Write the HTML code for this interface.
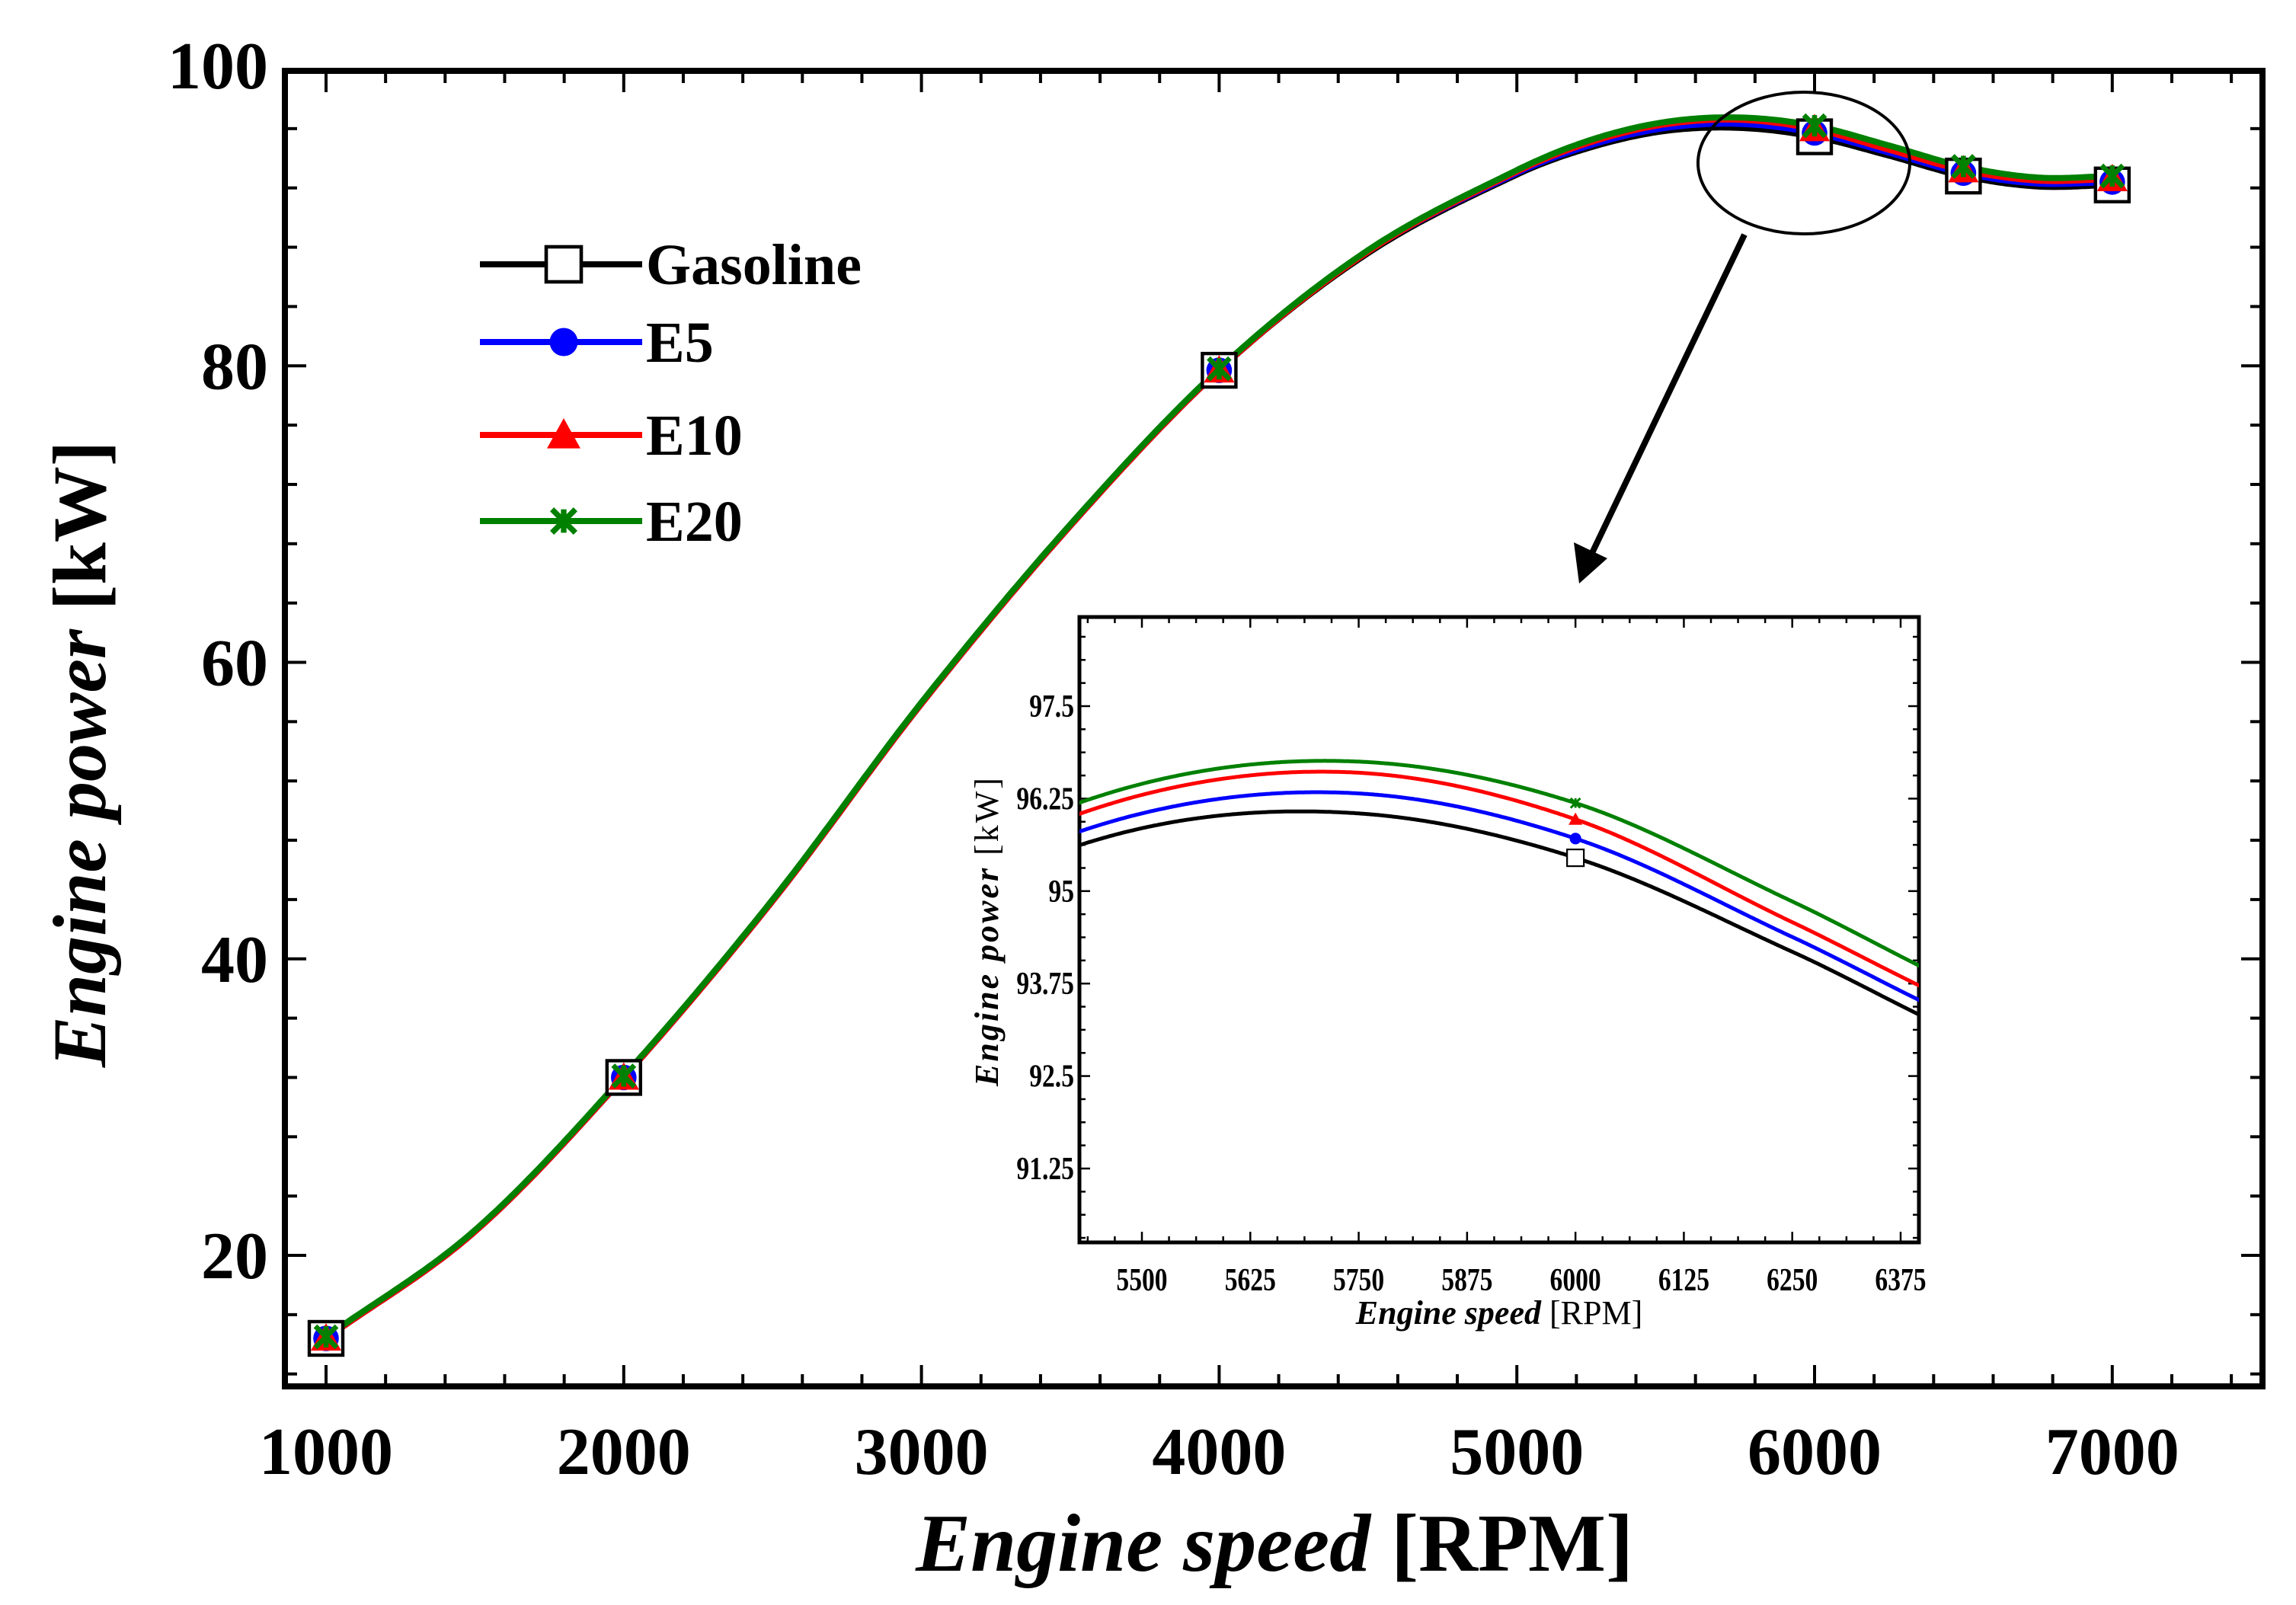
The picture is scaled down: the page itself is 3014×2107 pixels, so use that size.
<!DOCTYPE html>
<html><head><meta charset="utf-8"><style>
html,body{margin:0;padding:0;background:#fff;}
svg{display:block;}
text{font-family:"Liberation Serif",serif;}
</style></head><body>
<svg id="chart" width="3014" height="2107" viewBox="0 0 3014 2107" xmlns="http://www.w3.org/2000/svg">
<rect x="0" y="0" width="3014" height="2107" fill="#fff"/>
<defs>
<clipPath id="mainClip"><rect x="374" y="93" width="2596" height="1727"/></clipPath>
<clipPath id="insetClip"><rect x="1417" y="810" width="1102" height="821"/></clipPath>
</defs>
<g id="main"></g>
<g id="inset"></g>
<g id="legend"></g>
<ellipse cx="2368" cy="214" rx="139" ry="93" fill="none" stroke="#000" stroke-width="4"/>
<line x1="2290" y1="308" x2="2088" y2="730" stroke="#000" stroke-width="8"/>
<polygon points="2073,766 2066,712 2110,733" fill="#000"/>
</svg>
<script>
const xKnots = [1000,1500,2000,2500,3000,3500,4000,4500,5000,5250,5500,5750,6000,6250,6500,6750,7000];
const gasolineVals = [14.4,21.6,32.0,43.9,57.2,69.2,79.7,87.6,92.9,94.75,95.85,96.05,95.45,94.18,92.8,92.1,92.2];
const e5Vals       = [14.4,21.6,32.0,43.9,57.2,69.2,79.7,87.7,93.0,94.9,96.05,96.32,95.71,94.38,93.0,92.3,92.4];
const e10Vals      = [14.4,21.6,32.0,43.9,57.2,69.2,79.7,87.7,93.1,95.1,96.3,96.6,95.97,94.58,93.2,92.5,92.6];
const e20Vals      = [14.5,21.7,32.1,44.0,57.3,69.3,79.8,87.8,93.2,95.25,96.45,96.75,96.19,94.86,93.45,92.7,92.8];
const markerX = [1000,2000,4000,6000,6500,7000];
const seriesNames = ["Gasoline","E5","E10","E20"];
const seriesColors = ["#000000","#0000ff","#ff0000","#008000"];
const mainXTicks = [1000,2000,3000,4000,5000,6000,7000];
const mainYTicks = [20,40,60,80,100];
const insetXTicks = [5500,5625,5750,5875,6000,6125,6250,6375];
const insetYTicks = [91.25,92.5,93.75,95,96.25,97.5];
const insetYLabels = ["91.25","92.5","93.75","95","96.25","97.5"];

const NS="http://www.w3.org/2000/svg";
const allVals=[gasolineVals,e5Vals,e10Vals,e20Vals];
function mk(tag,attrs,parent){const e=document.createElementNS(NS,tag);for(const k in attrs)e.setAttribute(k,attrs[k]);parent.appendChild(e);return e;}
function interp(vals,x){
  let i=0;while(i<xKnots.length-2&&x>xKnots[i+1])i++;
  const x0=xKnots[i],x1=xKnots[i+1],t=(x-x0)/(x1-x0);
  const p0=vals[Math.max(i-1,0)],p1=vals[i],p2=vals[i+1],p3=vals[Math.min(i+2,vals.length-1)];
  const xa=xKnots[Math.max(i-1,0)],xb=xKnots[Math.min(i+2,xKnots.length-1)];
  const m1=(p2-p0)/(x1-xa)*(x1-x0),m2=(p3-p1)/(xb-x0)*(x1-x0);
  const t2=t*t,t3=t2*t;
  return (2*t3-3*t2+1)*p1+(t3-2*t2+t)*m1+(-2*t3+3*t2)*p2+(t3-t2)*m2;
}
function curvePath(vals,sx,sy,x0,x1){
  let d="";const n=600;
  for(let k=0;k<=n;k++){const x=x0+(x1-x0)*k/n;d+=(k?"L":"M")+sx(x).toFixed(1)+","+sy(interp(vals,x)).toFixed(1);}
  return d;
}
function drawMarker(g,type,cx,cy,s,color){
  let e;
  if(type===0){e=mk("rect",{x:cx-s/2,y:cy-s/2,width:s,height:s,fill:"#fff",stroke:"#000","stroke-width":s/10},g);}
  else if(type===1){e=mk("circle",{cx:cx,cy:cy,r:s*0.42,fill:color},g);}
  else if(type===2){e=mk("polygon",{points:`${cx},${cy-s*0.5} ${cx-s*0.5},${cy+s*0.4} ${cx+s*0.5},${cy+s*0.4}`,fill:color},g);}
  else {e=mk("path",{d:`M${cx-s*0.35},${cy-s*0.35}L${cx+s*0.35},${cy+s*0.35}M${cx+s*0.35},${cy-s*0.35}L${cx-s*0.35},${cy+s*0.35}M${cx},${cy-s*0.35}V${cy+s*0.35}`,stroke:color,"stroke-width":s/6,fill:"none"},g);}
  return e;
}

// ---- main plot ----
const L=374,T=93,R=2970,B=1820;
const mx=v=>428+(v-1000)*0.3908;
const my=v=>1648-(v-20)*19.4625;
const main=document.getElementById("main");
const mf=mk("rect",{x:L,y:T,width:R-L,height:B-T,fill:"none",stroke:"#000","stroke-width":8},main);


for(let v=1000;v<=7400;v+=200){const major=v%1000===0;const len=major?28:16;
  mk("line",{x1:mx(v),y1:B,x2:mx(v),y2:B-len,stroke:"#000","stroke-width":4},main);
  mk("line",{x1:mx(v),y1:T,x2:mx(v),y2:T+len,stroke:"#000","stroke-width":4},main);}
for(let v=12;v<=100;v+=4){const major=v%20===0;const len=major?28:16;
  mk("line",{x1:L,y1:my(v),x2:L+len,y2:my(v),stroke:"#000","stroke-width":4},main);
  mk("line",{x1:R,y1:my(v),x2:R-len,y2:my(v),stroke:"#000","stroke-width":4},main);}
mainXTicks.forEach(v=>{const t=mk("text",{x:mx(v),y:1935,"text-anchor":"middle","font-size":88,"font-weight":"bold"},main);t.textContent=v;
  
  });
mainYTicks.forEach(v=>{const t=mk("text",{x:352,y:(v===100?86:my(v))+30,"text-anchor":"end","font-size":88,"font-weight":"bold"},main);t.textContent=v;
  
  });
const xt=mk("text",{x:1673,y:2062,"text-anchor":"middle","font-size":108,"font-weight":"bold"},main);
xt.innerHTML='<tspan font-style="italic">Engine speed</tspan> [RPM]';


const yt=mk("text",{x:0,y:0,"text-anchor":"middle","font-size":100,"font-weight":"bold",transform:"translate(138,990) rotate(-90)"},main);
yt.innerHTML='<tspan font-style="italic">Engine power</tspan> [kW]';


const mg=mk("g",{"clip-path":"url(#mainClip)"},main);
allVals.forEach((vals,i)=>{
  const p=mk("path",{d:curvePath(vals,mx,my,1000,7000),fill:"none",stroke:seriesColors[i],"stroke-width":8,"stroke-linejoin":"round"},mg);
  
  
});
allVals.forEach((vals,i)=>{
  markerX.forEach(x=>{const m=drawMarker(mg,i,mx(x),my(interp(vals,x)),i===0?44:40,seriesColors[i]);
    
    });
});

// ---- legend ----
const lg=document.getElementById("legend");
const legY=[347,449,571,684];
seriesNames.forEach((n,i)=>{
  const l=mk("line",{x1:630,y1:legY[i],x2:843,y2:legY[i],stroke:seriesColors[i],"stroke-width":8},lg);
  
  
  const m=drawMarker(lg,i,740,legY[i],i===0?46:44,seriesColors[i]);
  
  
  const t=mk("text",{x:848,y:legY[i]+26,"font-size":76,"font-weight":"bold"},lg);t.textContent=n;
  
  
});

// ---- inset ----
const iL=1417,iT=810,iR=2519,iB=1631;
const ix=v=>1499+(v-5500)*(996/875);
const iy=v=>927+(97.5-v)*(121.4/1.25);
const ins=document.getElementById("inset");
const bg=mk("rect",{x:iL,y:iT,width:iR-iL,height:iB-iT,fill:"#fff",stroke:"#000","stroke-width":5},ins);


for(let v=5437.5;v<=6400;v+=31.25){const major=Math.abs((v-5500)%125)<0.01;const len=major?14:8;
  mk("line",{x1:ix(v),y1:iB,x2:ix(v),y2:iB-len,stroke:"#000","stroke-width":2.5},ins);
  mk("line",{x1:ix(v),y1:iT,x2:ix(v),y2:iT+len,stroke:"#000","stroke-width":2.5},ins);}
for(let v=90.3125;v<=98.7;v+=0.3125){const major=Math.abs(((v-91.25)%1.25+1.25)%1.25)<0.01;const len=major?14:8;
  mk("line",{x1:iL,y1:iy(v),x2:iL+len,y2:iy(v),stroke:"#000","stroke-width":2.5},ins);
  mk("line",{x1:iR,y1:iy(v),x2:iR-len,y2:iy(v),stroke:"#000","stroke-width":2.5},ins);}
insetXTicks.forEach(v=>{const t=mk("text",{x:ix(v),y:1694,"text-anchor":"middle","font-size":42,"font-weight":"bold",transform:`translate(${ix(v)},0) scale(0.8,1) translate(${-ix(v)},0)`},ins);t.textContent=v;
  
  });
insetYTicks.forEach((v,k)=>{const t=mk("text",{x:1410,y:iy(v)+14,"text-anchor":"end","font-size":42,"font-weight":"bold",transform:`translate(1410,0) scale(0.8,1) translate(-1410,0)`},ins);t.textContent=insetYLabels[k];
  
  });
const ixt=mk("text",{x:1968,y:1738,"text-anchor":"middle","font-size":44},ins);
ixt.innerHTML='<tspan font-style="italic" font-weight="bold">Engine speed</tspan> [RPM]';


const iyt=mk("text",{x:0,y:0,"text-anchor":"middle","font-size":44,"letter-spacing":"3",transform:"translate(1310,1222) rotate(-90)"},ins);
iyt.innerHTML='<tspan font-style="italic" font-weight="bold">Engine power</tspan> [kW]';


const ig=mk("g",{"clip-path":"url(#insetClip)"},ins);
allVals.forEach((vals,i)=>{
  const p=mk("path",{d:curvePath(vals,ix,iy,5420,6420),fill:"none",stroke:seriesColors[i],"stroke-width":5},ig);
  
  
  const m=drawMarker(ig,i,ix(6000),iy(interp(vals,6000)),i===0?22:18,seriesColors[i]);
  
  
});
</script>
</body></html>
